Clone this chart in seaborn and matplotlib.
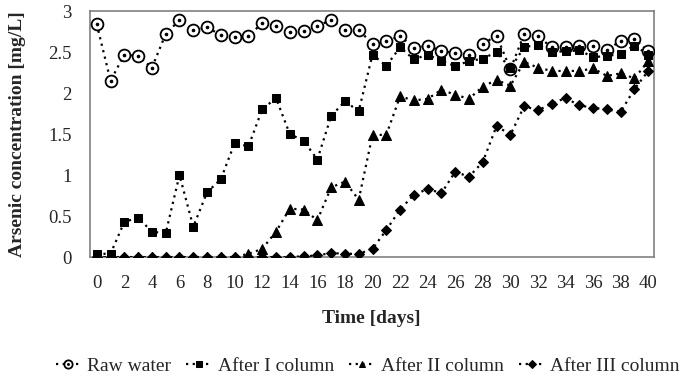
"""Arsenic concentration over time for raw water and after each column."""

import matplotlib

matplotlib.use("Agg")
import matplotlib.pyplot as plt
from matplotlib.legend_handler import HandlerTuple
import numpy as np
import pandas as pd
import seaborn as sns


days = list(range(41))

raw_water = [2.84, 2.15, 2.47, 2.45, 2.31, 2.72, 2.89, 2.77, 2.80, 2.71, 2.68,
             2.70, 2.85, 2.82, 2.74, 2.76, 2.82, 2.89, 2.77, 2.77, 2.60,
             2.63, 2.70, 2.55, 2.58, 2.51, 2.49, 2.47, 2.60, 2.70, 2.29,
             2.72, 2.69, 2.56, 2.56, 2.58, 2.57, 2.52, 2.64, 2.66, 2.51]

after_i = [0.04, 0.04, 0.43, 0.48, 0.31, 0.29, 1.00, 0.37, 0.79, 0.95, 1.39,
           1.35, 1.80, 1.94, 1.50, 1.42, 1.19, 1.72, 1.90, 1.78, 2.47,
           2.33, 2.56, 2.41, 2.47, 2.39, 2.33, 2.39, 2.42, 2.50, 2.30,
           2.56, 2.59, 2.50, 2.51, 2.52, 2.44, 2.45, 2.48, 2.58, 2.47]

after_ii = [0.0, 0.0, 0.0, 0.0, 0.0, 0.0, 0.0, 0.0, 0.0, 0.0, 0.0,
            0.04, 0.10, 0.31, 0.59, 0.58, 0.45, 0.85, 0.92, 0.70, 1.49,
            1.49, 1.96, 1.91, 1.93, 2.04, 1.98, 1.93, 2.08, 2.16, 2.09,
            2.38, 2.31, 2.27, 2.27, 2.27, 2.30, 2.21, 2.24, 2.18, 2.39]

after_iii = [0.0, 0.0, 0.0, 0.0, 0.0, 0.0, 0.0, 0.0, 0.0, 0.0, 0.0,
             0.0, 0.0, 0.0, 0.0, 0.01, 0.02, 0.05, 0.04, 0.04, 0.10,
             0.33, 0.58, 0.76, 0.83, 0.78, 1.04, 0.98, 1.16, 1.60, 1.49,
             1.84, 1.79, 1.87, 1.94, 1.85, 1.82, 1.80, 1.77, 2.05, 2.27]

series_names = ["Raw water", "After I column", "After II column", "After III column"]
series_markers = ["o", "s", "^", "D"]
y_ticks = [0, 0.5, 1, 1.5, 2, 2.5, 3]
y_tick_labels = ["0", "0.5", "1", "1.5", "2", "2.5", "3"]


sns.set_theme(style="white")
plt.rcParams["font.family"] = ["Liberation Serif", "DejaVu Serif"]

df = pd.DataFrame({"day": days, "Raw water": raw_water, "After I column": after_i,
                   "After II column": after_ii, "After III column": after_iii})

fig = plt.figure(figsize=(6.86, 3.82), dpi=100)
ax = fig.add_axes([0.131, 0.327, 0.822, 0.644])

marker_style = {
    "o": dict(markersize=8.5, markerfacecolor="white", markeredgewidth=1.3),
    "s": dict(markersize=5.5, markerfacecolor="black"),
    "^": dict(markersize=6.5, markerfacecolor="black"),
    "D": dict(markersize=5.5, markerfacecolor="black"),
}

handles = []
for name, marker in zip(series_names, series_markers):
    sns.lineplot(data=df, x="day", y=name, ax=ax, color="black", linestyle=(0, (1, 2)),
                 linewidth=1.6, marker=marker, markeredgecolor="black", zorder=3,
                 **marker_style[marker])
    line = ax.get_lines()[-1]
    if marker == "o":
        ax.plot(df["day"], df[name], linestyle="none", marker="o", markersize=1.6,
                color="black", zorder=4)
        handles.append((line, ax.get_lines()[-1]))
    else:
        handles.append(line)

ax.set_xlim(-0.5, 40.4)
ax.set_ylim(0, 3)
ax.set_xticks(np.arange(0, 41, 2))
ax.set_yticks(y_ticks)
ax.set_yticklabels(y_tick_labels)
ax.tick_params(axis="y", labelsize=13.5, length=0, pad=13)
ax.tick_params(axis="x", labelsize=13.5, length=0, pad=13)
ax.set_xlabel("Time [days]", fontsize=14, fontweight="bold", labelpad=13)
ax.set_ylabel("Arsenic concentration [mg/L]", fontsize=14, fontweight="bold", labelpad=16)
for spine in ax.spines.values():
    spine.set_color("#808080")
    spine.set_linewidth(1.2)

fig.legend(handles, series_names, loc="center", bbox_to_anchor=(0.536, 0.042), ncol=4,
           frameon=False, fontsize=14, handlelength=1.3, handletextpad=0.3,
           columnspacing=0.8, markerscale=0.7,
           handler_map={tuple: HandlerTuple(ndivide=1, pad=0)})

fig.savefig("out.png", dpi=100)
